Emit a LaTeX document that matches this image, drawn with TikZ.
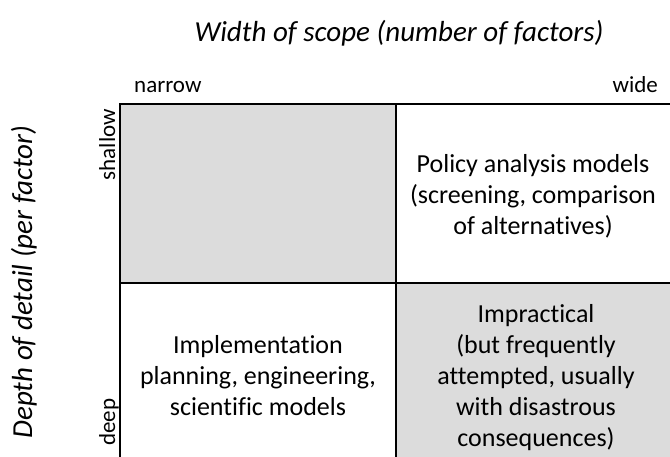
\documentclass[tikz,border=0pt]{standalone}
\usepackage{fontspec}
\setmainfont{Carlito}[Ligatures={NoCommon,NoContextual}]
\definecolor{cellgrey}{HTML}{DCDCDC}
\begin{document}
\begin{tikzpicture}[x=1pt,y=-1pt,
  gridline/.style={line width=2.6pt,black},
  celltext/.style={align=center,font=\fontsize{26}{31}\selectfont,inner sep=0pt},
  axislabel/.style={font=\fontsize{29}{34}\selectfont\itshape,inner sep=0pt},
  ticklabel/.style={font=\fontsize{23}{27}\selectfont,inner sep=0pt}]
\useasboundingbox (0,0) rectangle (670,457);
\fill[cellgrey] (120,104) rectangle (396,283);
\fill[cellgrey] (396,283) rectangle (670,457);
\draw[gridline] (120,104) -- (120,458);
\draw[gridline] (119,104) -- (671,104);
\draw[gridline] (396,104) -- (396,458);
\draw[gridline] (120,283) -- (671,283);
\node[axislabel,anchor=base] (title) at (399,42) {Width of scope (number of factors)};
\node[axislabel,rotate=90,anchor=base] (ylab) at (32,282) {Depth of detail (per factor)};
\node[ticklabel,anchor=base west] (narrow) at (134,93) {narrow};
\node[ticklabel,anchor=base east] (wide) at (658,93) {wide};
\node[ticklabel,rotate=90,anchor=base east] (shallow) at (115,109) {shallow};
\node[ticklabel,rotate=90,anchor=base west] (deep) at (115,446) {deep};
\node[celltext] (policy) at (533,196) {Policy analysis models\\(screening, comparison\\of alternatives)};
\node[celltext] (impl) at (258,376) {Implementation\\planning, engineering,\\scientific models};
\node[celltext] (impr) at (536,378) {Impractical\\(but frequently\\attempted, usually\\with disastrous\\consequences)};
\end{tikzpicture}
\end{document}
